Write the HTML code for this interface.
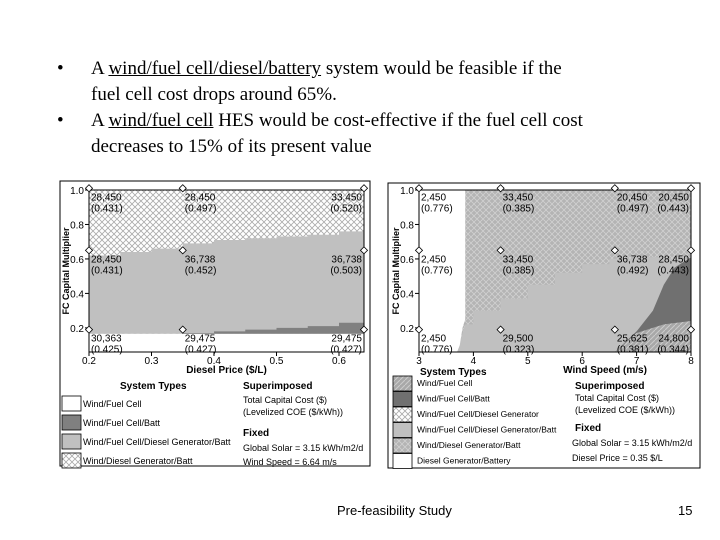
<!DOCTYPE html>
<html><head><meta charset="utf-8"><style>
body{margin:0;width:720px;height:540px;background:#fff;overflow:hidden;position:relative;font-family:"Liberation Sans",sans-serif}
.b{position:absolute;font-family:"Liberation Serif",serif;font-size:19px;color:#000;white-space:nowrap;line-height:26px}
</style></head><body>
<div class="b" style="left:57px;top:56px">•</div>
<div class="b" style="left:91px;top:56px">A <u>wind/fuel cell/diesel/battery</u> system would be feasible if the<br>fuel cell cost drops around 65%.</div>
<div class="b" style="left:57px;top:108px">•</div>
<div class="b" style="left:91px;top:108px">A <u>wind/fuel cell</u> HES would be cost-effective if the fuel cell cost<br>decreases to 15% of its present value</div>
<div style="position:absolute;left:337px;top:503px;font-size:13px">Pre-feasibility Study</div>
<div style="position:absolute;left:678px;top:503px;font-size:13px">15</div>
<svg id="s" width="720" height="540" style="position:absolute;left:0;top:0" font-family="Liberation Sans, sans-serif">
<defs>
<pattern id="xh" width="6" height="6" patternUnits="userSpaceOnUse"><rect width="6" height="6" fill="#fff"/><path d="M0 0L6 6M6 0L0 6" stroke="#aaa" stroke-width="0.8"/></pattern>
<pattern id="xhd" width="6" height="6" patternUnits="userSpaceOnUse"><rect width="6" height="6" fill="#b4b4b4"/><path d="M0 0L6 6M6 0L0 6" stroke="#d0d0d0" stroke-width="0.8"/></pattern>
<pattern id="dg" width="5" height="5" patternUnits="userSpaceOnUse"><rect width="5" height="5" fill="#a8a8a8"/><path d="M0 5L5 0" stroke="#ccc" stroke-width="1"/></pattern>
</defs>
</svg>
<script>
// Left chart data
const lxCats=[0.2,0.25,0.3,0.35,0.4,0.45,0.5,0.55,0.6,0.64];
const lTopBoundary=[0.62,0.64,0.66,0.69,0.71,0.72,0.73,0.74,0.76,0.77];
const lDarkTop=[0.165,0.165,0.165,0.17,0.18,0.19,0.20,0.21,0.23,0.24];
const lWhiteTop=[0.165,0.165,0.165,0.165,0.165,0.165,0.165,0.165,0.165,0.165];
const lLabelX=[0.2,0.35,0.64,0.2,0.35,0.64,0.2,0.35,0.64];
const lLabelY=[0.94,0.94,0.94,0.58,0.58,0.58,0.12,0.12,0.12];
const lCost=["28,450","28,450","33,450","28,450","36,738","36,738","30,363","29,475","29,475"];
const lCoe=["(0.431)","(0.497)","(0.520)","(0.431)","(0.452)","(0.503)","(0.425)","(0.427)","(0.427)"];
const lXTicks=[0.2,0.3,0.4,0.5,0.6];
const yTicks=[0.2,0.4,0.6,0.8,1.0];
// Right chart data
const rWhiteRight=[3.85,3.8,3.75,3.7];
const rWhiteY=[0.25,0.2,0.1,0.06];
const rMidX=[3.85,4,4.5,5,5.5,6,6.5,7,7.5,8];
const rMidBoundary=[0.22,0.3,0.37,0.45,0.52,0.57,0.6,0.61,0.6,0.6];
const rDarkX=[6.6,7,7.3,7.5,7.7,8];
const rDarkEdge=[0.06,0.18,0.3,0.45,0.55,0.61];
const rHatchX=[6.6,7,7.5,8];
const rHatchTop=[0.06,0.17,0.22,0.24];
const rLabelX=[3,4.5,6.6,8,3,4.5,6.6,8,3,4.5,6.6,8];
const rLabelY=[0.94,0.94,0.94,0.94,0.58,0.58,0.58,0.58,0.12,0.12,0.12,0.12];
const rCost=["2,450","33,450","20,450","20,450","2,450","33,450","36,738","28,450","2,450","29,500","25,625","24,800"];
const rCoe=["(0.776)","(0.385)","(0.497)","(0.443)","(0.776)","(0.385)","(0.492)","(0.443)","(0.776)","(0.323)","(0.381)","(0.344)"];
const rXTicks=[3,4,5,6,7,8];

const svg=document.getElementById('s');const NS='http://www.w3.org/2000/svg';
function mk(t,a,txt){const e=document.createElementNS(NS,t);for(const k in a)e.setAttribute(k,a[k]);if(txt!==undefined)e.textContent=txt;svg.appendChild(e);return e;}
const yMin=0.06,yMax=1.0,pTop=190,pBot=352;
const Y=v=>pBot-(v-yMin)/(yMax-yMin)*(pBot-pTop);
const LX=v=>89+(v-0.2)/(0.64-0.2)*(364-89);
const RX=v=>419+(v-3)/(8-3)*(691-419);
function poly(pts,fill,name){const e=mk('polygon',{points:pts.map(p=>p.join(',')).join(' '),fill:fill});

}
function stepPts(xs,ys,X){const p=[];for(let i=0;i<xs.length;i++){p.push([X(xs[i]),Y(ys[i])]);if(i<xs.length-1)p.push([X(xs[i+1]),Y(ys[i])]);}return p;}
let e=mk('rect',{x:60,y:181,width:310,height:285,fill:'#fff',stroke:'#000','stroke-width':1});


e=mk('rect',{x:388,y:183,width:312,height:285,fill:'#fff',stroke:'#000','stroke-width':1});


// LEFT regions
poly([[LX(0.2),Y(1)],[LX(0.64),Y(1)],[LX(0.64),Y(yMin)],[LX(0.2),Y(yMin)]],'url(#xh)','region-wind-diesel-batt');
poly([...stepPts(lxCats,lTopBoundary,LX),[LX(0.64),Y(lTopBoundary[9])],[LX(0.64),Y(lWhiteTop[9])],[LX(0.2),Y(lWhiteTop[0])]],'#c0c0c0','region-wind-fc-diesel-batt');
poly([...stepPts(lxCats,lDarkTop,LX),[LX(0.64),Y(lDarkTop[9])],[LX(0.64),Y(lWhiteTop[9])],[LX(0.2),Y(lWhiteTop[0])]],'#808080','region-wind-fc-batt');
poly([[LX(0.2),Y(lWhiteTop[0])],[LX(0.64),Y(lWhiteTop[9])],[LX(0.64),Y(yMin)],[LX(0.2),Y(yMin)]],'#fff','region-wind-fc');
// RIGHT regions
poly([[RX(3),Y(1)],[RX(8),Y(1)],[RX(8),Y(yMin)],[RX(3),Y(yMin)]],'url(#xhd)','region-wind-diesel-batt-r');
poly([...stepPts(rMidX,rMidBoundary,RX),[RX(8),Y(rMidBoundary[9])],[RX(8),Y(yMin)],[RX(3.7),Y(yMin)]],'#c0c0c0','region-wind-fc-diesel-batt-r');
poly([...rDarkX.map((x,i)=>[RX(x),Y(rDarkEdge[i])]),[RX(8),Y(yMin)]],'#707070','region-wind-fc-batt-r');
poly([...rHatchX.map((x,i)=>[RX(x),Y(rHatchTop[i])]),[RX(8),Y(yMin)],[RX(6.6),Y(yMin)]],'url(#dg)','region-wind-fc-r');
poly([[RX(3),Y(1)],[RX(3.85),Y(1)],...rWhiteRight.map((x,i)=>[RX(x),Y(rWhiteY[i])]),[RX(3),Y(yMin)]],'#fff','region-diesel-batt-r');
function axes(X,x0,x1,xt,pre,xtitle){
 e=mk('rect',{x:X(x0),y:pTop,width:X(x1)-X(x0),height:pBot-pTop,fill:'none',stroke:'#000'});
 
 
 xt.forEach(v=>{mk('line',{x1:X(v),x2:X(v),y1:pBot,y2:pBot+4,stroke:'#000'});
  e=mk('text',{x:X(v),y:pBot+12,'font-size':10,'text-anchor':'middle'},String(v));
  
  });
 yTicks.forEach(v=>{mk('line',{x1:X(x0)-4,x2:X(x0),y1:Y(v),y2:Y(v),stroke:'#000'});
  e=mk('text',{x:X(x0)-5,y:Y(v)+4,'font-size':10,'text-anchor':'end'},v.toFixed(1));
  
  });
 e=mk('text',{x:0,y:0,'font-size':9,'font-weight':'bold','text-anchor':'middle',transform:`translate(${X(x0)-20},${(pTop+pBot)/2}) rotate(-90)`},'FC Capital Multiplier');
 
 
 e=mk('text',{x:(X(x0)+X(x1))/2+(pre==='right-'?50:0),y:pBot+21,'font-size':10,'font-weight':'bold','text-anchor':'middle'},xtitle);
 
 
}
axes(LX,0.2,0.64,lXTicks,'left-','Diesel Price ($/L)');
axes(RX,3,8,rXTicks,'right-','Wind Speed (m/s)');
function labels(X,xs,ys,c1,c2,pre,xmax){
 xs.forEach((x,i)=>{const anchor=x>=xmax?'end':'start';const px=x>=xmax?X(x)-2:X(x)+2;
  e=mk('text',{x:px,y:Y(ys[i]),'font-size':10,'text-anchor':anchor},c1[i]);
  
  
  e=mk('text',{x:px,y:Y(ys[i])+11,'font-size':10,'text-anchor':anchor},c2[i]);
  
  
  e=mk('rect',{x:X(x)-2.5,y:Y(ys[i]+0.07)-2.5,width:5,height:5,fill:'#fff',stroke:'#000','stroke-width':0.8,transform:`rotate(45 ${X(x)} ${Y(ys[i]+0.07)})`});
  
  });
}
labels(LX,lLabelX,lLabelY,lCost,lCoe,'left-',0.64);
labels(RX,rLabelX,rLabelY,rCost,rCoe,'right-',8);
function txt(x,y,s,t,b,name){e=mk('text',{x:x,y:y,'font-size':s,'font-weight':b?'bold':'normal'},t);
 
 }
function sw(x,y,fill,name){e=mk('rect',{x:x,y:y,width:19,height:15,fill:fill,stroke:'#000','stroke-width':0.8});
 
 }
txt(120,389,10,'System Types',true,'left-legend-title');
const lLeg=[['#fff','Wind/Fuel Cell'],['#808080','Wind/Fuel Cell/Batt'],['#c0c0c0','Wind/Fuel Cell/Diesel Generator/Batt'],['url(#xh)','Wind/Diesel Generator/Batt']];
lLeg.forEach((l,i)=>{sw(62,396+i*19,l[0],'left-legend-swatch');txt(83,407+i*19,9,l[1],false,'left-legend-entry');});
txt(243,389,10,'Superimposed',true,'left-superimposed-title');
txt(243,403,9,'Total Capital Cost ($)',false,'left-superimposed-1');
txt(243,415,9,'(Levelized COE ($/kWh))',false,'left-superimposed-2');
txt(243,436,10,'Fixed',true,'left-fixed-title');
txt(243,451,9,'Global Solar = 3.15 kWh/m2/d',false,'left-fixed-1');
txt(243,465,9,'Wind Speed = 6.64 m/s',false,'left-fixed-2');
txt(420,375,10,'System Types',true,'right-legend-title');
const rLeg=[['url(#dg)','Wind/Fuel Cell'],['#707070','Wind/Fuel Cell/Batt'],['url(#xh)','Wind/Fuel Cell/Diesel Generator'],['#c0c0c0','Wind/Fuel Cell/Diesel Generator/Batt'],['url(#xhd)','Wind/Diesel Generator/Batt'],['#fff','Diesel Generator/Battery']];
rLeg.forEach((l,i)=>{sw(393,376+i*15.5,l[0],'right-legend-swatch');txt(417,386+i*15.5,8.5,l[1],false,'right-legend-entry');});
txt(575,389,10,'Superimposed',true,'right-superimposed-title');
txt(575,401,9,'Total Capital Cost ($)',false,'right-superimposed-1');
txt(575,413,9,'(Levelized COE ($/kWh))',false,'right-superimposed-2');
txt(575,431,10,'Fixed',true,'right-fixed-title');
txt(572,446,9,'Global Solar = 3.15 kWh/m2/d',false,'right-fixed-1');
txt(572,461,9,'Diesel Price = 0.35 $/L',false,'right-fixed-2');
</script>
</body></html>
